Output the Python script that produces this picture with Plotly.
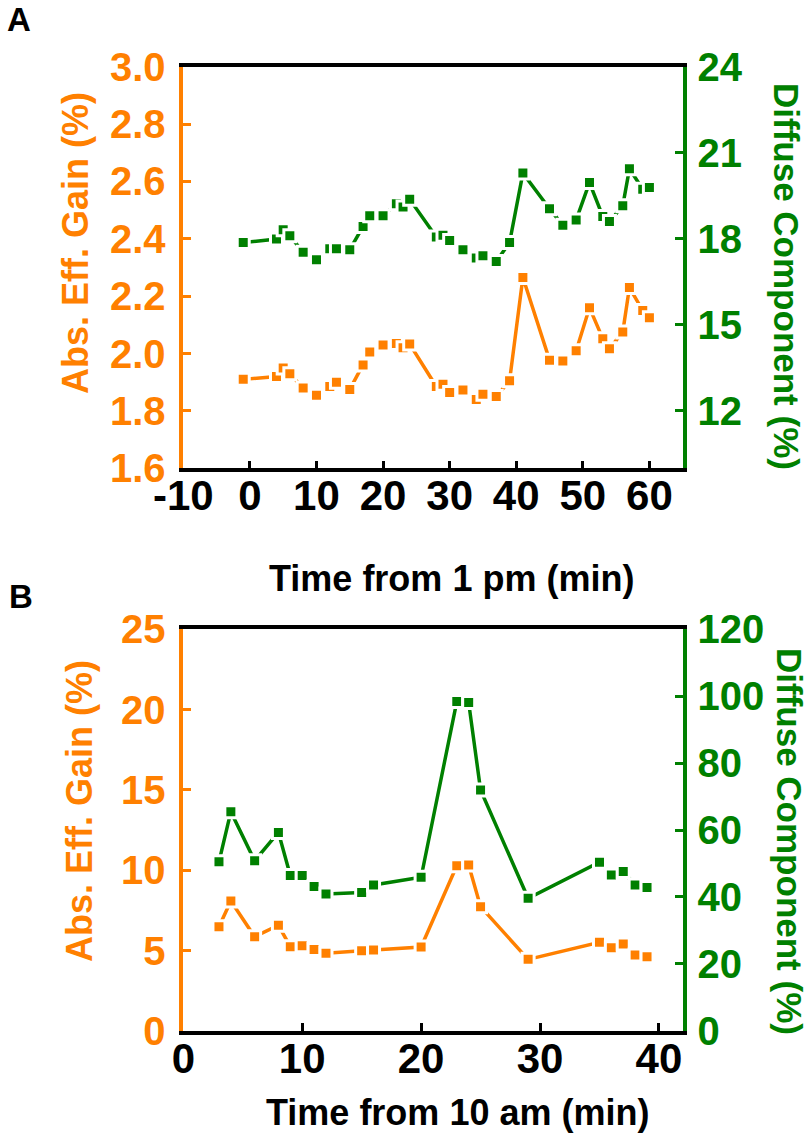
import plotly.graph_objects as go

# ---- Panel A: afternoon session (time from 1 pm) ----
time_a = [-1, 4, 5, 6, 8, 10, 12, 13, 15, 17, 18, 20, 22, 23, 24, 28, 29, 30,
          32, 34, 35, 37, 39, 41, 45, 47, 49, 51, 53, 54, 56, 57, 59, 60]
gain_a = [1.91, 1.92, 1.95, 1.93, 1.88, 1.855, 1.885, 1.90, 1.875, 1.96, 2.005,
          2.03, 2.035, 2.02, 2.033, 1.885, 1.893, 1.864, 1.873, 1.84, 1.858,
          1.85, 1.905, 2.265, 1.977, 1.974, 2.01, 2.16, 2.052, 2.017, 2.075,
          2.23, 2.15, 2.125]
diffuse_a = [17.87, 17.99, 18.32, 18.11, 17.53, 17.27, 17.65, 17.65, 17.62,
             18.43, 18.80, 18.80, 19.22, 19.11, 19.38, 18.06, 18.12, 17.94,
             17.62, 17.33, 17.41, 17.21, 17.87, 20.29, 19.05, 18.47, 18.66,
             19.96, 18.78, 18.60, 19.15, 20.44, 19.73, 19.79]

# ---- Panel B: morning session (time from 10 am) ----
time_b = [3, 4, 6, 8, 9, 10, 11, 12, 15, 16, 20, 23, 24, 25, 29, 35, 36, 37, 38, 39]
gain_b = [6.48, 8.08, 5.86, 6.57, 5.24, 5.30, 5.07, 4.83, 4.99, 5.03, 5.22,
          10.28, 10.32, 7.73, 4.45, 5.51, 5.17, 5.40, 4.72, 4.61]
diffuse_b = [50.5, 65.5, 50.8, 59.3, 46.4, 46.4, 43.1, 40.9, 41.3, 43.6, 45.9,
             98.4, 98.1, 72.0, 39.6, 50.4, 46.6, 47.6, 43.6, 42.8]

# Axis ticks
ticks_a_x = [-10, 0, 10, 20, 30, 40, 50, 60]
labels_a_x = ["-10", "0", "10", "20", "30", "40", "50", "60"]
ticks_a_left = [1.6, 1.8, 2.0, 2.2, 2.4, 2.6, 2.8, 3.0]
ticks_a_right = [12, 15, 18, 21, 24]
ticks_b_x = [0, 10, 20, 30, 40]
labels_b_x = ["0", "10", "20", "30", "40"]
ticks_b_left = [0, 5, 10, 15, 20, 25]
ticks_b_right = [0, 20, 40, 60, 80, 100, 120]

ORANGE = "#FF8000"
GREEN = "#008000"
FONT = "Liberation Sans, Arial, sans-serif"
W, H = 808, 1136


def px(x):
    return x / W


def py(y):
    return 1 - y / H


def series(x, y, color, xa, ya):
    # white marker outline leaves a small gap where the line meets each square
    return go.Scatter(
        x=x, y=y, xaxis=xa, yaxis=ya, mode="lines+markers",
        line=dict(color=color, width=3.5),
        marker=dict(symbol="square", size=12, color=color,
                    line=dict(color="white", width=3)),
        showlegend=False, hoverinfo="skip",
    )


fig = go.Figure()
fig.add_trace(series(time_a, gain_a, ORANGE, "x", "y"))
fig.add_trace(series(time_a, diffuse_a, GREEN, "x", "y2"))
fig.add_trace(series(time_b, gain_b, ORANGE, "x2", "y3"))
fig.add_trace(series(time_b, diffuse_b, GREEN, "x2", "y4"))

xdom = [px(183.3), px(682.7)]
ydom_a = [py(468.3), py(66.7)]
ydom_b = [py(1030.8), py(629.3)]

tickfont_x = dict(family=FONT, size=42, color="black", weight="bold")
tickfont_o = dict(family=FONT, size=40, color=ORANGE, weight="bold")
tickfont_g = dict(family=FONT, size=40, color=GREEN, weight="bold")


def xaxis(domain_y_anchor, rng, tv, tt):
    return dict(domain=xdom, anchor=domain_y_anchor, range=rng, tickvals=tv,
                ticktext=tt, automargin=False,
                showline=True, linecolor="black", linewidth=3.5, mirror=True,
                ticks="inside", ticklen=8, tickwidth=3, tickcolor="black",
                tickfont=tickfont_x, showgrid=False, zeroline=False,
                ticklabelstandoff=-12, fixedrange=True)


def yleft(dom, anchor, rng, tv, fmt=None):
    d = dict(domain=dom, anchor=anchor, range=rng, tickvals=tv,
             automargin=False,
             showline=True, linecolor=ORANGE, linewidth=3.5,
             ticks="inside", ticklen=8, tickwidth=3, tickcolor=ORANGE,
             tickfont=tickfont_o, showgrid=False, zeroline=False,
             ticklabelstandoff=6, fixedrange=True)
    if fmt:
        d["tickformat"] = fmt
    return d


def yright(over, anchor, rng, tv):
    return dict(overlaying=over, anchor=anchor, side="right", range=rng,
                tickvals=tv, automargin=False,
                showline=True, linecolor=GREEN, linewidth=3.5,
                ticks="inside", ticklen=8, tickwidth=3, tickcolor=GREEN,
                tickfont=tickfont_g, showgrid=False, zeroline=False,
                ticklabelstandoff=3, fixedrange=True)


fig.update_layout(
    width=W, height=H,
    margin=dict(l=0, r=0, t=0, b=0, autoexpand=False),
    paper_bgcolor="white", plot_bgcolor="white",
    xaxis=xaxis("y", [-10, 65], ticks_a_x, labels_a_x),
    yaxis=yleft(ydom_a, "x", [1.6, 3.0], ticks_a_left, ".1f"),
    yaxis2=yright("y", "x", [10, 24], ticks_a_right),
    xaxis2=xaxis("y3", [0, 42], ticks_b_x, labels_b_x),
    yaxis3=yleft(ydom_b, "x2", [0, 25], ticks_b_left),
    yaxis4=yright("y3", "x2", [0, 120], ticks_b_right),
)

ann = []


def add_text(text, x, y, color, size=36, angle=0):
    ann.append(dict(text=text, x=px(x), y=py(y), xref="paper", yref="paper",
                    xanchor="center", yanchor="middle", showarrow=False,
                    textangle=angle,
                    font=dict(family=FONT, size=size, color=color, weight="bold")))


# Panel letters
add_text("A", 19, 20, "black", size=33)
add_text("B", 21, 596, "black", size=33)

# Axis titles, panel A
add_text("Abs. Eff. Gain (%)", 75, 243, ORANGE, angle=-90)
add_text("Diffuse Component (%)", 787, 276, GREEN, size=35, angle=90)
add_text("Time from 1 pm (min)", 451, 578, "black")

# Axis titles, panel B
add_text("Abs. Eff. Gain (%)", 79, 811, ORANGE, angle=-90)
add_text("Diffuse Component (%)", 790, 841, GREEN, size=35, angle=90)
add_text("Time from 10 am (min)", 458, 1112, "black")

fig.update_layout(annotations=ann)
fig.write_html("out.html")
